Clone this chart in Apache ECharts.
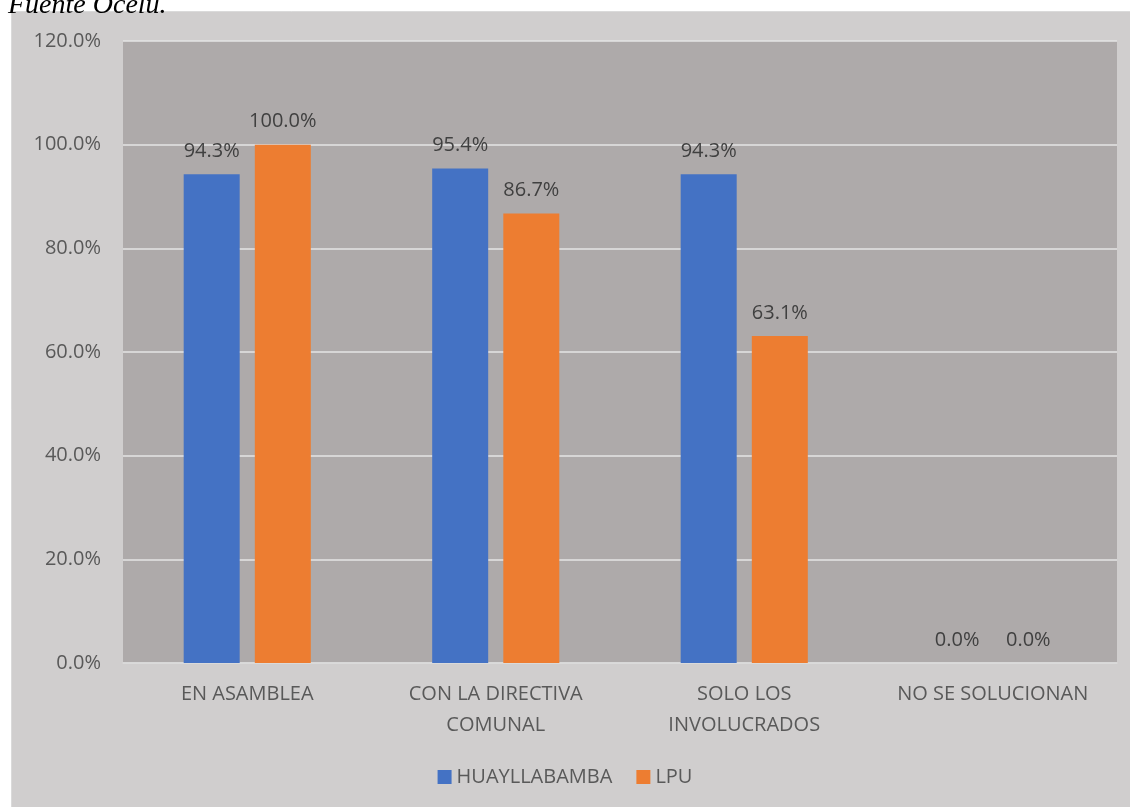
<!DOCTYPE html>
<html>
<head>
<meta charset="utf-8">
<script src="https://cdn.jsdelivr.net/npm/echarts@6/dist/echarts.min.js"></script>
<style>
  html, body { margin: 0; padding: 0; background: #fff; }
  #chart { width: 1130px; height: 807px; }
</style>
</head>
<body>
<div id="chart"></div>
<script>
  const categories = ['EN ASAMBLEA', 'CON LA DIRECTIVA\nCOMUNAL', 'SOLO LOS\nINVOLUCRADOS', 'NO SE SOLUCIONAN'];
  const huayllabamba = [94.3, 95.4, 94.3, 0.0];
  const lpu = [100.0, 86.7, 63.1, 0.0];
  const seriesNames = ['HUAYLLABAMBA', 'LPU'];

  const FONT = '"Open Sans", "Liberation Sans", sans-serif';
  const TXT = '#595959';
  const FS = 20;

  const chart = echarts.init(document.getElementById('chart'), null, { renderer: 'canvas' });

  const labelCfg = {
    show: true,
    position: 'top',
    distance: 13,
    color: '#404040',
    fontFamily: FONT,
    fontSize: FS,
    formatter: (p) => p.value.toFixed(1) + '%'
  };

  chart.setOption({
    backgroundColor: '#ffffff',
    animation: false,
    graphic: [
      {
        type: 'rect',
        z: -10,
        shape: { x: 11.5, y: 11.5, width: 1130, height: 807 },
        style: { fill: '#d0cece', stroke: '#dadada', lineWidth: 1 }
      },
      {
        type: 'text',
        left: 8,
        top: -8,
        z: -5,
        style: {
          text: 'Fuente Ocelu.',
          font: 'italic 28px "Liberation Serif", "DejaVu Serif", serif',
          fill: '#000'
        }
      }
    ],
    grid: {
      left: 123, right: 13, top: 41, bottom: 144,
      show: true,
      backgroundColor: '#aeaaaa',
      borderWidth: 0
    },
    legend: {
      bottom: 15,
      left: 'center',
      itemWidth: 14,
      itemHeight: 14,
      itemGap: 24,
      icon: 'rect',
      textStyle: { color: TXT, fontFamily: FONT, fontSize: FS },
      data: seriesNames
    },
    xAxis: {
      type: 'category',
      data: categories,
      axisLine: { lineStyle: { color: '#d9d9d9', width: 1.5 } },
      axisTick: { show: false },
      axisLabel: {
        color: TXT, fontFamily: FONT, fontSize: FS,
        margin: 16, lineHeight: 31, interval: 0
      }
    },
    yAxis: {
      type: 'value',
      min: 0, max: 120, interval: 20,
      axisLine: { show: false },
      axisTick: { show: false },
      axisLabel: {
        color: TXT, fontFamily: FONT, fontSize: FS, margin: 22,
        formatter: (v) => v.toFixed(1) + '%'
      },
      splitLine: { lineStyle: { color: '#e4e4e4', width: 1.5 } }
    },
    series: [
      {
        name: seriesNames[0], type: 'bar', data: huayllabamba,
        barWidth: 56, barGap: '27%',
        itemStyle: { color: '#4472c4' },
        label: labelCfg
      },
      {
        name: seriesNames[1], type: 'bar', data: lpu,
        barWidth: 56,
        itemStyle: { color: '#ed7d31' },
        label: labelCfg
      }
    ]
  });
</script>
</body>
</html>
